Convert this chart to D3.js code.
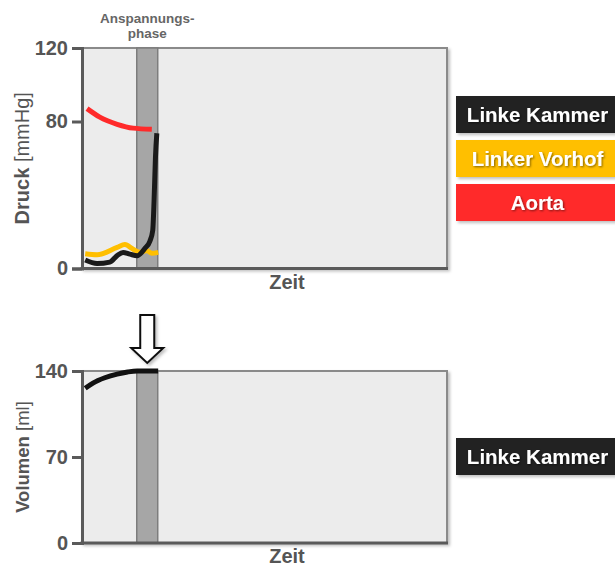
<!DOCTYPE html>
<html><head><meta charset="utf-8">
<script src="https://cdn.jsdelivr.net/npm/d3@7"></script>
<style>
html,body{margin:0;padding:0;background:#fff;}
svg{display:block;font-family:"Liberation Sans",Arial,Helvetica,sans-serif;}
</style></head>
<body><svg id="c" width="615" height="567"></svg>
<script>
// ---- data ----
const pressureTicks = [0, 80, 120];
const volumeTicks = [0, 70, 140];
const phaseBand = [120, 166];           // Anspannungsphase (ms)
const aortaT = [11, 39, 77, 112, 153];
const aortaP = [87, 82.4, 78.5, 76.4, 75.8];
const laT = [7, 33, 77, 94, 112, 127, 142, 153, 167];
const laP = [8, 7.5, 11.5, 13, 10.5, 8.8, 9.8, 8.3, 8.8];
const lvT = [7, 33, 61, 77, 90, 105, 121, 138, 149, 155, 158, 161, 164];
const lvP = [4.6, 2.7, 3.5, 7, 8.7, 7.8, 7, 11, 15, 20.7, 37, 60.5, 73.6];
const volT = [7, 24, 50, 77, 100, 121, 167];
const volV = [126, 130.2, 134.5, 137.5, 139.2, 140, 140];
const legendTop = ["Linke Kammer", "Linker Vorhof", "Aorta"];
const legendTopColors = ["#222222", "#ffbf00", "#ff2a2a"];
const legendBottom = ["Linke Kammer"];
const legendBottomColors = ["#222222"];

const svg = d3.select("#c");
const defs = svg.append("defs");
const f = defs.append("filter").attr("id","sh").attr("x","-10%").attr("y","-10%").attr("width","130%").attr("height","130%");
f.append("feDropShadow").attr("dx",2).attr("dy",2).attr("stdDeviation",1.8).attr("flood-color","#000").attr("flood-opacity",0.25);
const ft = defs.append("filter").attr("id","tsh");
ft.append("feDropShadow").attr("dx",1).attr("dy",1).attr("stdDeviation",0.8).attr("flood-color","#000").attr("flood-opacity",0.5);

const x = d3.scaleLinear().domain([0, 800]).range([82, 447]);

function panel(y0, y1, ymax, ticks, label, unit, labelSize, series, legend, colors, legendY, zeitY) {
  const y = d3.scaleLinear().domain([0, ymax]).range([y1, y0]);
  const g = svg.append("g");
  g.append("rect").attr("x", x(0)).attr("y", y0).attr("width", x(800)-x(0)).attr("height", y1-y0)
    .attr("fill","#ececec").attr("stroke","#8a8a8a").attr("stroke-width",2).attr("filter","url(#sh)");
  g.append("rect").attr("x", x(phaseBand[0])).attr("y", y0).attr("width", x(phaseBand[1])-x(phaseBand[0])).attr("height", y1-y0)
    .attr("fill","#a6a6a6").attr("stroke","#7d7d7d").attr("stroke-width",1.5);
  const line = d3.line().x(d=>x(d[0])).y(d=>y(d[1])).curve(d3.curveMonotoneX);
  series.forEach(s => {
    g.append("path").datum(s.t.map((t,i)=>[t, s.v[i]])).attr("d", line)
      .attr("fill","none").attr("stroke", s.color).attr("stroke-width", s.w).attr("stroke-linecap","butt");
  });
  // axes
  const ax = d3.axisLeft(y).tickValues(ticks).tickSize(10).tickPadding(4);
  const ag = g.append("g").attr("transform", `translate(${x(0)},0)`).call(ax);
  ag.select(".domain").attr("stroke","#5a5a5a").attr("stroke-width",3);
  ag.selectAll(".tick line").attr("stroke","#5a5a5a").attr("stroke-width",3);
  ag.selectAll(".tick text").attr("fill","#555").attr("font-size",20).attr("font-weight","bold")
    .attr("font-family","Liberation Sans, Arial, sans-serif");
  g.append("line").attr("x1", x(0)-1.5).attr("x2", x(800)+1).attr("y1", y1).attr("y2", y1)
    .attr("stroke","#5a5a5a").attr("stroke-width",3);
  g.append("text").attr("x", 287).attr("y", zeitY).attr("text-anchor","middle")
    .attr("font-size",20).attr("font-weight","bold").attr("fill","#555").text("Zeit");
  const yc = (y0+y1)/2;
  const lt = g.append("text").attr("transform", `translate(29,${yc}) rotate(-90)`).attr("text-anchor","middle")
    .attr("font-size",labelSize).attr("fill","#555");
  lt.append("tspan").attr("font-weight","bold").text(label);
  lt.append("tspan").text(" " + unit);
  // legend
  legend.forEach((name,i) => {
    const ly = legendY + i*44;
    g.append("rect").attr("x",456).attr("y",ly).attr("width",170).attr("height",37)
      .attr("fill",colors[i]).attr("filter","url(#sh)");
    g.append("text").attr("x",537.5).attr("y",ly+26).attr("text-anchor","middle")
      .attr("font-size",20.5).attr("font-weight","bold").attr("fill","#fff").attr("filter","url(#tsh)").text(name);
  });
  return y;
}

panel(48, 268.5, 120, pressureTicks, "Druck", "[mmHg]", 20, [
  {t: aortaT, v: aortaP, color:"#ff2a2a", w:5},
  {t: laT, v: laP, color:"#ffbf00", w:5},
  {t: lvT, v: lvP, color:"#1a1a1a", w:5}
], legendTop, legendTopColors, 96, 289);

panel(371, 543, 140, volumeTicks, "Volumen", "[ml]", 18.5, [
  {t: volT, v: volV, color:"#111", w:5}
], legendBottom, legendBottomColors, 438, 563);

// phase label
const pc = (x(phaseBand[0]) + x(phaseBand[1]))/2;
svg.append("text").attr("x", pc).attr("y", 23).attr("text-anchor","middle").attr("font-size",13.5)
  .attr("font-weight","bold").attr("fill","#666").text("Anspannungs-");
svg.append("text").attr("x", pc).attr("y", 38).attr("text-anchor","middle").attr("font-size",13.5)
  .attr("font-weight","bold").attr("fill","#666").text("phase");

// arrow pointing at the band
const ac = pc, at = 315, ab = 363;
const arrowPts = [[ac-7,at],[ac+7,at],[ac+7,348],[ac+16,348],[ac,ab],[ac-16,348],[ac-7,348]];
svg.append("polygon").attr("points", arrowPts.map(p=>p.join(",")).join(" "))
  .attr("fill","#fff").attr("stroke","#111").attr("stroke-width",2).attr("stroke-linejoin","miter").attr("filter","url(#sh)");
</script></body></html>
